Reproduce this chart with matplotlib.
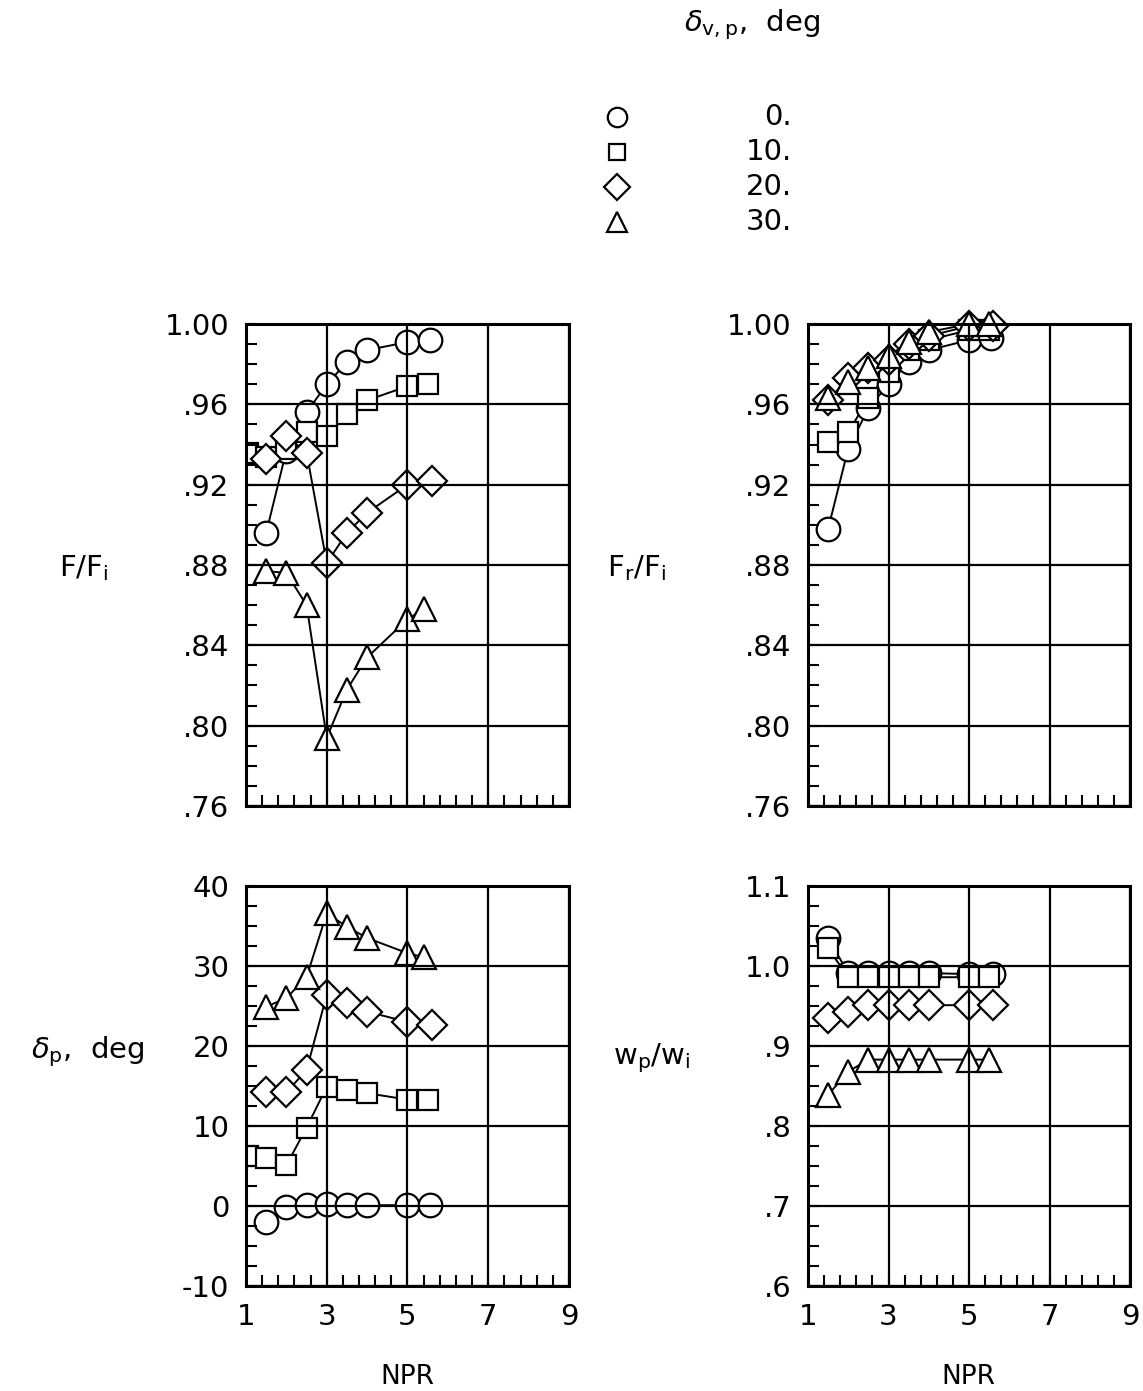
import numpy as np
import matplotlib
matplotlib.use('Agg')
import matplotlib.pyplot as plt
from matplotlib.lines import Line2D
from matplotlib.ticker import MultipleLocator, FixedLocator, FuncFormatter

plt.rcParams['font.family'] = ['DejaVu Sans']
plt.rcParams['mathtext.fontset'] = 'dejavusans'

# series keys: nozzle deflection, deg
labels = ['0.', '10.', '20.', '30.']
markers = ['o', 's', 'D', '^']
msizes = [17, 14, 15, 17]

# F/Fi (top left)
ff_npr = [[1.5, 2.0, 2.5, 3.0, 3.5, 4.0, 5.0, 5.55],
          [1.05, 1.5, 2.0, 2.5, 3.0, 3.5, 4.0, 5.0, 5.5],
          [1.5, 2.0, 2.5, 3.0, 3.5, 4.0, 5.0, 5.6],
          [1.5, 2.0, 2.5, 3.0, 3.5, 4.0, 5.0, 5.4]]
ff_val = [[.896, .937, .956, .970, .981, .987, .991, .992],
          [.936, .934, .938, .946, .944, .955, .962, .969, .970],
          [.933, .944, .936, .881, .896, .906, .920, .922],
          [.877, .876, .860, .794, .818, .834, .853, .858]]

# Fr/Fi (top right)
fr_npr = [[1.5, 2.0, 2.5, 3.0, 3.5, 4.0, 5.0, 5.55],
          [1.5, 2.0, 2.5, 3.0, 3.5, 4.0, 5.0, 5.5],
          [1.5, 2.0, 2.5, 3.0, 3.5, 4.0, 5.0, 5.6],
          [1.5, 2.0, 2.5, 3.0, 3.5, 4.0, 5.0, 5.5]]
fr_val = [[.898, .938, .958, .970, .981, .987, .992, .993],
          [.941, .946, .963, .976, .987, .992, .997, .997],
          [.962, .973, .978, .982, .990, .994, .999, .999],
          [.963, .971, .978, .984, .991, .996, 1.000, 1.000]]

# delta_p, deg (bottom left)
dp_npr = [[1.5, 2.0, 2.5, 3.0, 3.5, 4.0, 5.0, 5.55],
          [1.05, 1.5, 2.0, 2.5, 3.0, 3.5, 4.0, 5.0, 5.5],
          [1.5, 2.0, 2.5, 3.0, 3.5, 4.0, 5.0, 5.6],
          [1.5, 2.0, 2.5, 3.0, 3.5, 4.0, 5.0, 5.4]]
dp_val = [[-2.0, -0.1, 0.1, 0.2, 0.1, 0.1, 0.1, 0.1],
          [6.3, 6.0, 5.1, 9.8, 14.9, 14.5, 14.1, 13.3, 13.2],
          [14.2, 14.2, 17.0, 26.4, 25.4, 24.3, 23.0, 22.6],
          [24.9, 26.0, 28.6, 36.6, 34.9, 33.5, 31.6, 31.1]]

# wp/wi (bottom right)
wp_npr = [[1.5, 2.0, 2.5, 3.0, 3.5, 4.0, 5.0, 5.6],
          [1.5, 2.0, 2.5, 3.0, 3.5, 4.0, 5.0, 5.5],
          [1.5, 2.0, 2.5, 3.0, 3.5, 4.0, 5.0, 5.6],
          [1.5, 2.0, 2.5, 3.0, 3.5, 4.0, 5.0, 5.5]]
wp_val = [[1.035, .991, .991, .991, .991, .991, .990, .990],
          [1.022, .986, .986, .986, .986, .986, .986, .986],
          [.935, .943, .951, .951, .951, .951, .951, .951],
          [.839, .868, .883, .883, .883, .883, .883, .883]]

npr_ticks = [1, 3, 5, 7, 9]


def nolead(fmt):
    def f(v, pos):
        s = fmt % v
        if s.startswith('0.'):
            s = s[1:]
        elif s.startswith('-0.'):
            s = '-' + s[2:]
        return s
    return FuncFormatter(f)


def setup(ax, ylim, major, minor, fmt, xlabels):
    ax.set_xlim(1, 9)
    ax.set_ylim(*ylim)
    ax.xaxis.set_major_locator(FixedLocator(npr_ticks))
    ax.xaxis.set_minor_locator(MultipleLocator(0.4, offset=0.2))
    ax.yaxis.set_major_locator(MultipleLocator(major))
    ax.yaxis.set_minor_locator(MultipleLocator(minor))
    ax.yaxis.set_major_formatter(nolead(fmt))
    ax.tick_params(which='both', direction='in', length=8, width=1.5,
                   labelsize=21, top=False, right=False)
    ax.tick_params(axis='y', pad=12)
    ax.tick_params(axis='x', pad=12, labelbottom=xlabels)
    ax.grid(True, which='major', color='black', linewidth=1.6)
    ax.set_axisbelow(False)
    for sp in ax.spines.values():
        sp.set_linewidth(2.2)


def draw(ax, nprs, vals, clip=True):
    for x, y, m, ms in zip(nprs, vals, markers, msizes):
        ax.plot(x, y, color='black', lw=1.4, zorder=1.5, clip_on=clip)
        ax.plot(x, y, ls='none', marker=m, ms=ms, mfc='white', mec='black',
                mew=1.6, zorder=2, clip_on=clip)


fig = plt.figure(figsize=(11.43, 13.91), dpi=100)
W, H = 1143, 1391


def box(x0, x1, y0, y1):
    return [x0 / W, 1 - y1 / H, (x1 - x0) / W, (y1 - y0) / H]


ax1 = fig.add_axes(box(246, 569, 324, 806))
ax2 = fig.add_axes(box(808, 1130, 324, 806))
ax3 = fig.add_axes(box(246, 569, 886, 1286))
ax4 = fig.add_axes(box(808, 1130, 886, 1286))

setup(ax1, (.76, 1.0), .04, .01, '%.2f', False)
setup(ax2, (.76, 1.0), .04, .01, '%.2f', False)
setup(ax3, (-10, 40), 10, 2.5, '%d', True)
setup(ax4, (.6, 1.1), .1, .025, '%.1f', True)

draw(ax1, ff_npr, ff_val)
draw(ax2, fr_npr, fr_val, clip=False)
draw(ax3, dp_npr, dp_val)
draw(ax4, wp_npr, wp_val)

fs = 21
fig.text(84 / W, 1 - 568 / H, r'F/F$_{\rm i}$', fontsize=fs, ha='center', va='center')
fig.text(636 / W, 1 - 568 / H, r'F$_{\rm r}$/F$_{\rm i}$', fontsize=fs, ha='center', va='center')
fig.text(88 / W, 1 - 1052 / H, r'$\delta_{\rm p}$,  deg', fontsize=fs, ha='center', va='center')
fig.text(652 / W, 1 - 1058 / H, r'w$_{\rm p}$/w$_{\rm i}$', fontsize=fs, ha='center', va='center')
fig.text(407 / W, 1 - 1377 / H, 'NPR', fontsize=19, ha='center', va='center')
fig.text(968 / W, 1 - 1377 / H, 'NPR', fontsize=19, ha='center', va='center')

# key
fig.text(752 / W, 1 - 25 / H, r'$\delta_{\rm v,p}$,  deg', fontsize=fs, ha='center', va='center')
key_ms = [14, 12, 13, 14]
for i, (lab, m, ms) in enumerate(zip(labels, markers, key_ms)):
    yy = 1 - (117 + 35 * i) / H
    fig.add_artist(Line2D([617 / W], [yy], transform=fig.transFigure, marker=m,
                          ms=ms, mfc='white', mec='black', mew=1.6, ls='none'))
    fig.text(792 / W, yy, lab, fontsize=fs, ha='right', va='center')

fig.savefig('out.png', dpi=100)
